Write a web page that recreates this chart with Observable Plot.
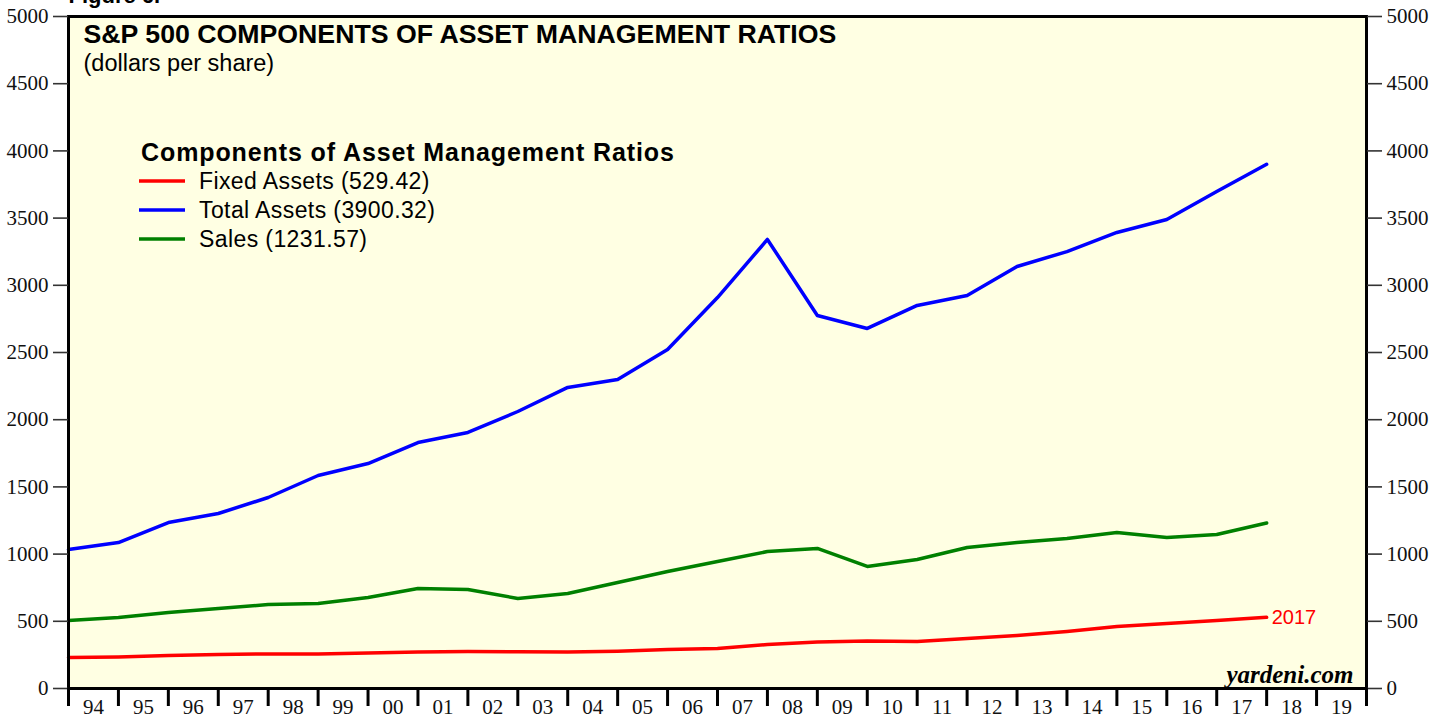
<!DOCTYPE html>
<html>
<head>
<meta charset="utf-8">
<script src="https://cdn.jsdelivr.net/npm/d3@7"></script>
<script src="https://cdn.jsdelivr.net/npm/@observablehq/plot@0.6"></script>
<style>
  html, body { margin: 0; padding: 0; background: #fff; }
  svg { display: block; }
</style>
</head>
<body>
<div id="chart"></div>
<script>
// Data: year-end values (plotted at the end of each year)
const years = d3.range(1993, 2018);
const totalAssets = [1034, 1086, 1235, 1302, 1421, 1585, 1674, 1830, 1905, 2061, 2240, 2299, 2522, 2909, 3341, 2775, 2679, 2850, 2924, 3140, 3251, 3393, 3490, 3698, 3900.32];
const sales = [506, 528, 565, 595, 625, 632, 677, 744, 737, 670, 707, 789, 871, 945, 1019, 1042, 908, 960, 1049, 1086, 1116, 1161, 1124, 1146, 1231.57];
const fixedAssets = [231, 234, 245, 253, 257, 257, 264, 272, 275, 274, 272, 278, 290, 298, 327, 346, 353, 350, 372, 394, 424, 461, 484, 506, 529.42];
const yTicks = d3.range(0, 5001, 500);
const xTickYears = d3.range(1994, 2021);
const xLabelYears = d3.range(1994, 2020);

const seriesNames = ["Fixed Assets (529.42)", "Total Assets (3900.32)", "Sales (1231.57)"];
const seriesColors = ["#ff0000", "#0000ff", "#008000"];

const mk = (vals) => years.map((y, i) => ({x: y + 1, v: vals[i]}));
const fixedData = mk(fixedAssets);
const totalData = mk(totalAssets);
const salesData = mk(sales);

const serif = "'Liberation Serif', 'Times New Roman', serif";
const sans = "'Liberation Sans', Arial, Helvetica, sans-serif";

const chart = Plot.plot({
  width: 1446,
  height: 717,
  marginLeft: 68,
  marginRight: 80,
  marginTop: 16,
  marginBottom: 29,
  style: {background: "#ffffff", overflow: "visible"},
  x: {domain: [1994, 2020]},
  y: {domain: [0, 5000]},
  marks: [
    Plot.frame({fill: "#ffffe3", stroke: null}),
    Plot.line(salesData, {x: "x", y: "v", stroke: seriesColors[2], strokeWidth: 3.5}),
    Plot.line(totalData, {x: "x", y: "v", stroke: seriesColors[1], strokeWidth: 3.5}),
    Plot.line(fixedData, {x: "x", y: "v", stroke: seriesColors[0], strokeWidth: 3.5}),
    Plot.text([fixedData[fixedData.length - 1]], {x: "x", y: "v", text: () => "2017", dx: 5, textAnchor: "start", fill: "#ff0000", fontSize: 20, fontFamily: sans}),
    Plot.frame({stroke: "#000", strokeWidth: 3}),
    Plot.axisY({ticks: yTicks, anchor: "left", tickSize: 15, tickPadding: 5, label: null, fontSize: 21, fontFamily: serif, stroke: "#333", strokeWidth: 1.6, tickFormat: d => String(d), color: "#111"}),
    Plot.axisY({ticks: yTicks, anchor: "right", tickSize: 15, tickPadding: 5, label: null, fontSize: 21, fontFamily: serif, stroke: "#333", strokeWidth: 1.6, tickFormat: d => String(d), color: "#111"}),
    Plot.axisX({ticks: xTickYears, tickSize: 18, strokeWidth: 3, stroke: "#000", tickFormat: () => "", label: null}),
    Plot.axisX({ticks: xLabelYears.map(y => y + 0.5), tickSize: 0, tickPadding: 11, tickFormat: d => String(Math.floor(d) % 100).padStart(2, "0"), label: null, fontSize: 21, fontFamily: serif, color: "#111"}),
    Plot.text(["S&P 500 COMPONENTS OF ASSET MANAGEMENT RATIOS"], {frameAnchor: "top-left", dx: 15, dy: 8, lineAnchor: "top", textAnchor: "start", fontSize: 26.7, fontWeight: "bold", fontFamily: sans, fill: "#000"}),
    Plot.text(["(dollars per share)"], {frameAnchor: "top-left", dx: 15, dy: 38, lineAnchor: "top", textAnchor: "start", fontSize: 23.5, fontFamily: sans, fill: "#000"}),
    Plot.text(["Figure 6."], {frameAnchor: "top-left", dx: 0, dy: -14, lineAnchor: "bottom", textAnchor: "start", fontSize: 22, fontWeight: "bold", fontFamily: sans, fill: "#000"}),
    Plot.text(["yardeni.com"], {frameAnchor: "bottom-right", dx: -13, dy: -6, lineAnchor: "bottom", textAnchor: "end", fontSize: 25, fontWeight: "bold", fontStyle: "italic", fontFamily: serif, fill: "#000"})
  ]
});

// Legend inside the plot area (added to the SVG)
const svg = d3.select(chart);
const lg = svg.append("g").attr("font-family", sans).attr("text-anchor", "start");
lg.append("text").attr("x", 141).attr("y", 161).attr("font-size", 25).attr("font-weight", "bold").attr("letter-spacing", 0.9).attr("fill", "#000").text("Components of Asset Management Ratios");
seriesNames.forEach((name, i) => {
  const y = 181 + i * 29;
  lg.append("line").attr("x1", 139).attr("x2", 185).attr("y1", y).attr("y2", y).attr("stroke", seriesColors[i]).attr("stroke-width", 3.5);
  lg.append("text").attr("x", 199).attr("y", y + 8).attr("font-size", 23).attr("letter-spacing", 0.4).attr("fill", "#000").text(name);
});

document.getElementById("chart").appendChild(chart);
</script>
</body>
</html>
